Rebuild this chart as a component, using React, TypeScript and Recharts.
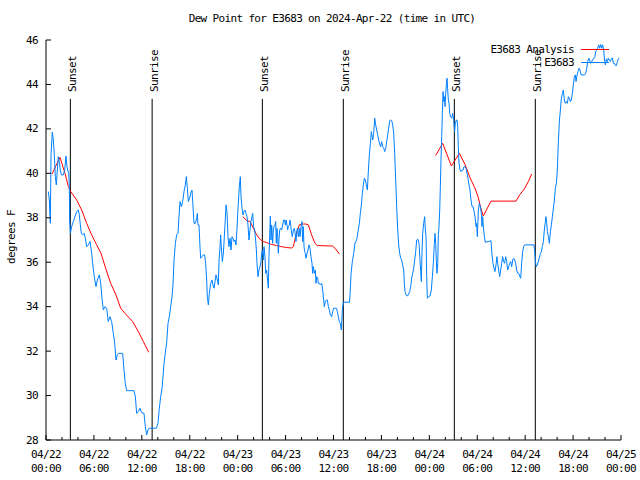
import { LineChart, Line, XAxis, YAxis, ReferenceLine, ReferenceDot, Legend } from 'recharts'

// hours after 2024-04-22 00:00 UTC, dew point (F)
const obsPoints: [number, number][] = [
  [0.29, 39.18], [0.42, 38.8], [0.54, 37.75], [0.63, 40.83], [0.79, 41.85], [0.92, 41.5], [1.04, 40.83], [1.17, 39.85],
  [1.29, 39.48], [1.42, 40.15], [1.54, 40.75], [1.67, 40.53], [1.79, 40.15], [1.92, 39.93], [2.17, 39.93], [2.34, 40.15],
  [2.5, 40.78], [2.63, 40.3], [2.75, 40.08], [2.84, 40.08], [2.92, 39.4], [2.96, 37.9], [3.05, 37.3], [3.21, 37.6],
  [3.42, 37.83], [3.63, 38.05], [3.84, 38.28], [4.05, 38.35], [4.17, 38.13], [4.3, 37.68], [4.42, 37.3], [4.59, 37.23],
  [4.8, 37.3], [4.92, 37.08], [5.09, 36.7], [5.3, 36.78], [5.51, 36.93], [5.72, 36.4], [5.84, 35.95], [6.05, 35.35],
  [6.26, 34.9], [6.43, 35.2], [6.68, 35.43], [6.85, 35.05], [7.01, 34.38], [7.18, 33.85], [7.39, 34.0], [7.6, 33.93],
  [7.8, 33.33], [8.01, 33.55], [8.22, 33.33], [8.43, 32.8], [8.6, 32.35], [8.76, 31.6], [8.93, 31.83], [9.1, 31.9],
  [9.6, 31.9], [9.77, 31.15], [9.93, 30.55], [10.1, 30.22], [11.02, 30.22], [11.19, 29.95], [11.35, 29.2], [11.56, 29.28],
  [11.77, 29.43], [11.98, 29.23], [12.27, 29.2], [12.44, 28.6], [12.6, 28.23], [12.77, 28.45], [12.9, 28.53], [13.82, 28.53],
  [14.02, 28.75], [14.19, 29.43], [14.36, 29.95], [14.53, 30.33], [14.65, 30.85], [14.78, 31.45], [14.94, 31.93], [15.11, 32.38],
  [15.28, 33.25], [15.44, 33.55], [15.61, 34.0], [15.78, 34.45], [15.9, 34.98], [16.03, 36.1], [16.2, 36.85], [16.36, 37.23],
  [16.53, 37.3], [16.65, 38.05], [16.78, 38.73], [16.95, 38.5], [17.11, 38.73], [17.28, 39.18], [17.45, 39.48], [17.57, 39.85],
  [17.7, 39.33], [17.82, 38.73], [17.99, 38.88], [18.11, 39.1], [18.28, 39.25], [18.37, 38.73], [18.53, 37.75], [18.7, 37.75],
  [18.87, 37.98], [18.95, 38.2], [19.03, 37.68], [19.16, 37.68], [19.28, 36.7], [19.37, 36.18], [19.53, 36.25], [19.7, 36.33],
  [19.87, 36.33], [19.99, 35.95], [20.12, 35.2], [20.2, 34.45], [20.33, 34.08], [20.45, 34.6], [20.62, 35.05], [20.79, 35.2],
  [20.91, 34.98], [21.04, 34.83], [21.16, 35.13], [21.29, 35.43], [21.45, 35.2], [21.58, 34.98], [21.66, 36.03], [21.79, 36.7],
  [21.87, 37.23], [21.95, 36.7], [22.08, 36.03], [22.21, 36.4], [22.33, 37.15], [22.46, 37.98], [22.54, 38.58], [22.66, 38.28],
  [22.79, 37.15], [22.91, 36.7], [23.04, 37.08], [23.17, 36.55], [23.29, 37.15], [23.42, 37.08], [23.54, 36.93], [23.67, 37.0],
  [23.79, 36.78], [23.92, 37.53], [24.0, 38.13], [24.08, 38.65], [24.21, 39.4], [24.33, 39.85], [24.42, 38.95], [24.54, 38.43],
  [24.67, 38.13], [24.79, 38.28], [24.92, 38.35], [25.04, 38.2], [25.17, 38.05], [25.29, 37.68], [25.42, 37.0], [25.54, 37.45],
  [25.67, 37.83], [25.79, 38.05], [25.88, 38.2], [26.0, 37.6], [26.13, 37.45], [26.25, 37.0], [26.34, 36.55], [26.42, 35.95],
  [26.55, 35.35], [26.67, 35.65], [26.8, 35.8], [26.92, 36.03], [27.01, 36.4], [27.09, 36.55], [27.21, 36.1], [27.3, 36.7],
  [27.42, 36.25], [27.51, 35.5], [27.63, 35.65], [27.76, 35.13], [27.84, 34.83], [27.92, 36.25], [28.01, 37.15], [28.09, 38.08],
  [28.17, 37.0], [28.26, 37.67], [28.38, 36.85], [28.47, 37.45], [28.55, 37.6], [28.67, 37.67], [28.76, 37.83], [28.84, 36.85],
  [28.92, 37.53], [29.01, 37.15], [29.09, 36.4], [29.17, 37.0], [29.26, 37.45], [29.38, 37.53], [29.51, 37.45], [29.63, 37.67],
  [29.76, 37.9], [29.88, 37.9], [29.97, 37.67], [30.05, 37.9], [30.18, 37.67], [30.26, 37.45], [30.34, 37.6], [30.47, 37.67],
  [30.55, 37.9], [30.64, 37.67], [30.76, 37.3], [30.85, 37.15], [30.97, 37.45], [31.1, 37.53], [31.22, 37.23], [31.3, 36.93],
  [31.39, 37.3], [31.47, 37.53], [31.6, 37.15], [31.72, 37.53], [31.81, 37.15], [31.93, 37.6], [32.05, 37.83], [32.14, 36.93],
  [32.22, 37.6], [32.31, 36.7], [32.39, 36.48], [32.47, 36.4], [32.56, 36.18], [32.68, 36.4], [32.81, 36.55], [32.93, 36.78],
  [33.06, 36.63], [33.18, 36.25], [33.31, 35.95], [33.39, 35.5], [33.48, 35.8], [33.6, 35.5], [33.73, 35.65], [33.81, 35.05],
  [33.89, 35.35], [34.02, 35.28], [34.1, 35.05], [34.23, 35.05], [34.35, 34.98], [34.52, 35.05], [34.65, 34.75], [34.77, 34.3],
  [34.85, 34.0], [34.98, 34.23], [35.1, 34.3], [35.23, 34.3], [35.36, 34.0], [35.48, 33.85], [35.61, 33.63], [35.77, 33.55],
  [35.9, 33.78], [36.02, 33.93], [36.36, 33.93], [36.48, 33.78], [36.61, 33.55], [36.73, 33.33], [36.86, 33.25], [36.98, 32.95],
  [37.11, 33.85], [37.23, 34.2], [38.0, 34.2], [38.07, 34.52], [38.2, 35.5], [38.36, 36.03], [38.53, 36.4], [38.7, 36.88],
  [38.9, 37.0], [39.07, 37.38], [39.24, 37.75], [39.36, 38.2], [39.49, 38.58], [39.61, 39.1], [39.74, 39.48], [39.86, 39.78],
  [39.99, 39.7], [40.11, 39.48], [40.24, 39.25], [40.37, 40.15], [40.49, 40.83], [40.62, 41.35], [40.74, 41.88], [40.83, 41.65],
  [40.91, 41.5], [41.03, 41.8], [41.16, 42.48], [41.28, 42.18], [41.41, 41.95], [41.53, 41.73], [41.66, 41.5], [41.78, 41.32],
  [41.91, 41.2], [42.03, 41.43], [42.16, 41.2], [42.29, 41.13], [42.41, 40.98], [42.54, 41.13], [42.66, 41.43], [42.79, 41.73],
  [42.91, 42.03], [43.04, 42.37], [43.16, 42.4], [43.29, 42.37], [43.41, 42.18], [43.54, 41.8], [43.66, 40.9], [43.79, 39.7],
  [43.91, 38.5], [44.04, 37.45], [44.16, 36.78], [44.29, 36.4], [44.41, 36.18], [44.54, 36.1], [44.66, 35.88], [44.79, 35.65],
  [44.87, 35.05], [44.96, 34.68], [45.08, 34.53], [45.25, 34.48], [45.42, 34.57], [45.54, 34.68], [45.67, 34.9], [45.79, 35.28],
  [45.92, 35.5], [46.04, 35.73], [46.17, 36.1], [46.29, 36.48], [46.42, 37.0], [46.58, 37.03], [46.71, 36.85], [46.83, 36.1],
  [46.92, 35.58], [47.0, 35.13], [47.09, 36.55], [47.17, 37.3], [47.29, 37.75], [47.42, 38.05], [47.5, 37.45], [47.59, 37.15],
  [47.67, 35.35], [47.75, 34.38], [47.92, 34.45], [48.09, 34.48], [48.25, 34.75], [48.38, 35.35], [48.5, 35.95], [48.63, 36.85],
  [48.71, 37.3], [48.8, 36.85], [48.88, 36.03], [48.96, 35.5], [49.05, 35.95], [49.13, 37.23], [49.21, 37.6], [49.3, 38.35],
  [49.38, 39.4], [49.46, 40.6], [49.55, 41.65], [49.63, 42.7], [49.72, 43.68], [49.8, 43.23], [49.88, 43.45], [49.97, 43.0],
  [50.05, 43.6], [50.13, 43.98], [50.22, 44.28], [50.3, 43.75], [50.38, 43.3], [50.47, 43.15], [50.55, 42.7], [50.68, 42.55],
  [50.8, 42.48], [50.93, 42.7], [51.05, 42.4], [51.17, 41.88], [51.26, 42.25], [51.38, 42.4], [51.47, 42.4], [51.55, 42.1],
  [51.63, 41.2], [51.72, 40.45], [51.84, 40.15], [51.97, 40.08], [52.09, 40.15], [52.22, 40.15], [52.34, 40.3], [52.47, 40.3],
  [52.59, 40.23], [52.72, 40.0], [52.84, 39.78], [52.97, 39.48], [53.09, 39.25], [53.22, 38.8], [53.35, 38.5], [53.47, 38.5],
  [53.6, 38.28], [53.72, 38.05], [53.85, 37.6], [53.93, 37.75], [54.01, 37.15], [54.14, 38.35], [54.26, 38.65], [54.39, 38.5],
  [54.51, 38.2], [54.6, 37.6], [54.68, 38.05], [54.76, 37.6], [54.89, 37.15], [55.01, 36.9], [55.6, 36.95], [55.72, 36.97],
  [55.85, 36.33], [55.97, 35.95], [56.1, 35.73], [56.22, 35.58], [56.35, 35.88], [56.47, 36.25], [56.56, 35.95], [56.68, 35.65],
  [56.81, 35.35], [56.93, 35.65], [57.06, 35.95], [57.18, 36.25], [57.31, 36.03], [57.43, 35.95], [57.56, 36.25], [57.69, 36.03],
  [57.81, 35.65], [57.94, 35.8], [58.06, 35.95], [58.19, 36.03], [58.31, 35.8], [58.44, 36.1], [58.56, 36.18], [58.69, 36.1],
  [58.81, 35.95], [58.94, 35.65], [59.06, 35.5], [59.19, 35.5], [59.31, 35.38], [59.44, 35.28], [59.56, 35.95], [59.69, 36.48],
  [59.81, 36.7], [59.94, 36.78], [61.11, 36.78], [61.19, 36.48], [61.28, 36.03], [61.4, 35.8], [61.53, 35.88], [61.7, 36.1],
  [61.86, 36.33], [62.03, 36.48], [62.15, 36.7], [62.28, 36.93], [62.4, 37.45], [62.53, 37.83], [62.61, 38.05], [62.7, 37.75],
  [62.78, 37.38], [62.91, 37.15], [63.03, 36.85], [63.16, 37.38], [63.28, 37.68], [63.41, 38.05], [63.53, 38.43], [63.66, 38.8],
  [63.78, 39.33], [63.91, 39.55], [64.03, 40.15], [64.16, 41.43], [64.28, 42.33], [64.41, 42.85], [64.53, 43.38], [64.66, 43.6],
  [64.78, 43.75], [64.91, 43.3], [65.03, 43.15], [65.16, 43.23], [65.28, 43.15], [65.41, 43.45], [65.53, 43.38], [65.66, 43.23],
  [65.78, 43.3], [65.91, 43.6], [66.03, 43.98], [66.16, 44.35], [66.28, 44.43], [66.37, 44.13], [66.5, 44.43], [66.62, 44.58],
  [66.75, 44.73], [66.87, 44.65], [67.0, 44.43], [67.46, 44.43], [67.58, 44.5], [67.71, 44.73], [67.83, 45.03], [67.96, 45.18],
  [68.08, 45.1], [68.21, 44.95], [68.33, 45.03], [68.46, 45.1], [68.58, 45.18], [68.71, 45.2], [68.83, 45.48], [68.96, 45.55],
  [69.08, 45.63], [69.21, 45.78], [69.33, 45.63], [69.46, 45.8], [69.58, 45.63], [69.71, 45.78], [69.83, 45.55], [69.96, 45.03],
  [70.04, 44.88], [70.17, 45.15], [70.29, 45.03], [70.42, 45.18], [70.55, 45.1], [70.67, 45.03], [70.8, 45.15], [70.92, 45.2],
  [71.05, 44.95], [71.17, 44.95], [71.3, 44.85], [71.42, 44.85], [71.55, 45.03], [71.67, 45.15], [71.8, 45.2],
]

// analysis runs only during the night; null breaks the line between nights
const analysisPoints: [number, number | null][] = [
  [0.75, 39.97], [1.75, 40.72], [2.38, 40.0], [2.8, 39.4], [3.09, 39.18], [3.84, 38.8], [4.47, 38.35], [5.09, 37.75],
  [5.72, 37.23], [6.34, 36.78], [6.89, 36.4], [7.47, 35.73], [8.1, 35.05], [8.76, 34.53], [9.35, 33.93], [9.89, 33.7],
  [10.85, 33.33], [11.56, 32.88], [12.19, 32.43], [12.86, 31.95],
  [18, null],
  [24.67, 38.05], [25.13, 37.87], [25.55, 37.83], [25.97, 37.53], [26.38, 37.23], [26.8, 37.03], [27.22, 36.93], [27.63, 36.88],
  [28.26, 36.8], [28.88, 36.75], [29.51, 36.7], [30.13, 36.66], [30.76, 36.64], [30.97, 36.7], [31.3, 37.23], [31.72, 37.68],
  [32.01, 37.72], [32.55, 37.72], [32.85, 37.68], [33.26, 37.23], [33.68, 36.85], [33.97, 36.75], [35.89, 36.73], [36.19, 36.63],
  [36.73, 36.37],
  [42, null],
  [48.79, 40.8], [49.67, 41.35], [50.76, 40.33], [51.76, 40.9], [52.47, 40.4], [53.1, 39.8], [53.75, 39.3], [54.14, 38.9],
  [54.43, 38.45], [54.76, 38.08], [55.72, 38.75], [58.85, 38.75], [59.35, 39.05], [59.9, 39.3], [60.4, 39.63], [60.82, 39.97],
]

const sunTimes = [3.05, 13.29, 27.09, 37.23, 51.13, 61.27]
const sunLabels = ['Sunset', 'Sunrise', 'Sunset', 'Sunrise', 'Sunset', 'Sunrise']
const sunLineTop = 43.35

const hourTicks = [0, 2, 4, 6, 8, 10, 12, 14, 16, 18, 20, 22, 24, 26, 28, 30, 32, 34, 36, 38, 40, 42, 44, 46, 48, 50, 52, 54, 56, 58, 60, 62, 64, 66, 68, 70, 72]
const dewTicks = [28, 30, 32, 34, 36, 38, 40, 42, 44, 46]
const startMonth = '04'
const startDay = 22
const legendOrder = ['ana', 'obs']

const obsData = obsPoints.map(([h, v]) => ({ h, obs: v }))
const analysisData = analysisPoints.map(([h, v]) => ({ h, ana: v }))

const FONT = '"DejaVu Sans Mono", "Liberation Mono", monospace'
const txt = { fontFamily: FONT, fontSize: 11, letterSpacing: -0.65, fill: '#000' }
const MAJOR = 5
const MINOR = 3

const pad = (n: number) => (n < 10 ? `0${n}` : `${n}`)

const BottomTick = ({ x, y, payload }: any) => {
  const h = payload.value
  const major = h % 6 === 0
  return (
    <g>
      <line x1={x} x2={x} y1={y} y2={y - (major ? MAJOR : MINOR)} stroke="#000" />
      {major && (
        <>
          <text x={x} y={y + 18} textAnchor="middle" style={txt}>{`${startMonth}/${startDay + Math.floor(h / 24)}`}</text>
          <text x={x} y={y + 31.5} textAnchor="middle" style={txt}>{`${pad(h % 24)}:00`}</text>
        </>
      )}
    </g>
  )
}

const TopTick = ({ x, y, payload }: any) => {
  const major = payload.value % 6 === 0
  return <line x1={x} x2={x} y1={y} y2={y + (major ? MAJOR : MINOR)} stroke="#000" />
}

const LeftTick = ({ x, y, payload }: any) => (
  <g>
    <line x1={x} x2={x + MAJOR} y1={y} y2={y} stroke="#000" />
    <text x={x - 8} y={y} textAnchor="end" dominantBaseline="central" style={txt}>{payload.value}</text>
  </g>
)

const RightTick = ({ x, y }: any) => <line x1={x} x2={x - MAJOR} y1={y} y2={y} stroke="#000" />

const SunLabel = ({ cx, cy, label }: any) => (
  <text transform={`translate(${cx + 5.5},${cy - 7}) rotate(-90)`} style={txt}>{label}</text>
)

const renderLegend = ({ payload }: any) => {
  const items = [...(payload || [])].sort(
    (a: any, b: any) => legendOrder.indexOf(a.dataKey) - legendOrder.indexOf(b.dataKey)
  )
  return (
    <div style={{ fontFamily: FONT, fontSize: 11, letterSpacing: -0.65 }}>
      {items.map((p: any) => (
        <div key={p.value} style={{ display: 'flex', alignItems: 'center', justifyContent: 'flex-end', height: 13 }}>
          <span style={{ marginRight: 7, lineHeight: '13px' }}>{p.value}</span>
          <svg width={28} height={3} style={{ display: 'block' }}>
            <line x1={0} x2={28} y1={1.5} y2={1.5} stroke={p.color} />
          </svg>
        </div>
      ))}
    </div>
  )
}

export default function App() {
  return (
    <div style={{ position: 'relative', width: 640, height: 480, background: '#fff' }}>
      <style>{'body{margin:0}'}</style>
      <div style={{ position: 'absolute', left: 0, top: 12, width: 664, textAlign: 'center', fontFamily: FONT, fontSize: 11, letterSpacing: -0.65, lineHeight: '14px' }}>
        Dew Point for E3683 on 2024-Apr-22 (time in UTC)
      </div>
      <LineChart width={640} height={480} margin={{ top: 40, right: 19, bottom: 0, left: 0 }}>
        <XAxis
          dataKey="h" type="number" domain={[0, 72]} ticks={hourTicks} interval={0}
          height={40} tickSize={0} tickMargin={0} tickLine={false}
          axisLine={{ stroke: '#000' }} tick={BottomTick} allowDataOverflow
        />
        <XAxis
          xAxisId="top" orientation="top" dataKey="h" type="number" domain={[0, 72]} ticks={hourTicks} interval={0}
          height={0} tickSize={0} tickMargin={0} tickLine={false}
          axisLine={{ stroke: '#000' }} tick={TopTick} allowDataOverflow
        />
        <YAxis
          type="number" domain={[28, 46]} ticks={dewTicks} interval={0} width={46}
          tickSize={0} tickMargin={0} tickLine={false} axisLine={{ stroke: '#000' }} tick={LeftTick} allowDataOverflow
          label={{
            content: (p: any) => {
              const vb = p.viewBox || { x: 0, y: 40, height: 400 }
              const cy = vb.y + vb.height / 2 - 3
              return (
                <text transform={`translate(${vb.x + 11},${cy}) rotate(-90)`} textAnchor="middle" dominantBaseline="central" style={txt}>
                  degrees F
                </text>
              )
            },
          }}
        />
        <YAxis
          yAxisId="right" orientation="right" type="number" domain={[28, 46]} ticks={dewTicks} interval={0} width={0}
          tickSize={0} tickMargin={0} tickLine={false} axisLine={{ stroke: '#000' }} tick={RightTick} allowDataOverflow
        />
        {sunTimes.map((t, i) => (
          <ReferenceLine key={`l${i}`} segment={[{ x: t, y: 28 }, { x: t, y: sunLineTop }]} stroke="#000" strokeWidth={1} />
        ))}
        {sunTimes.map((t, i) => (
          <ReferenceDot key={`d${i}`} x={t} y={sunLineTop} r={0} shape={(p: any) => <SunLabel {...p} label={sunLabels[i]} />} />
        ))}
        <Legend
          layout="horizontal" verticalAlign="middle" align="center" content={renderLegend}
          wrapperStyle={{ top: 43, left: 464, width: 145, height: 26 }}
        />
        <Line
          data={analysisData} dataKey="ana" name="E3683 Analysis" stroke="#ff0000" strokeWidth={1}
          dot={false} activeDot={false} connectNulls={false} isAnimationActive={false}
        />
        <Line
          data={obsData} dataKey="obs" name="E3683" stroke="#0080ff" strokeWidth={1}
          dot={false} activeDot={false} isAnimationActive={false}
        />
      </LineChart>
    </div>
  )
}
